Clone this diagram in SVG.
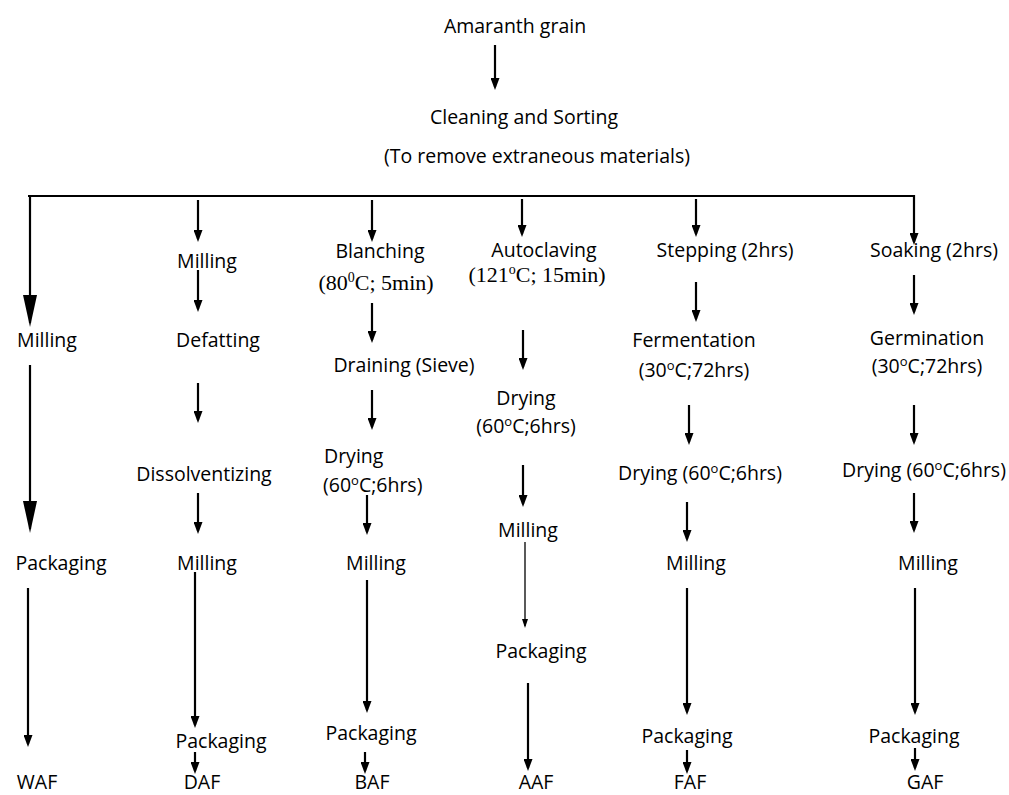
<svg xmlns="http://www.w3.org/2000/svg" width="1009" height="795" viewBox="0 0 1009 795">
<style>
.t{font-family:"Open Sans","Noto Sans",sans-serif;font-size:19.5px;fill:#000;text-anchor:middle}
.s{text-anchor:start}
.tr{font-family:"Liberation Serif","Times New Roman",serif;font-size:22px;fill:#000;text-anchor:middle}
.c{stroke:#000;stroke-width:2.2;fill:none}
.thin{stroke:#000;stroke-width:1.3;fill:none}
</style>
<defs>
<marker id="a" viewBox="0 0 12 9" refX="9" refY="4.5" markerWidth="12" markerHeight="9" markerUnits="userSpaceOnUse" orient="auto"><path d="M0,0 L12,4.5 L0,9 z" fill="#000"/></marker>
<marker id="big" viewBox="0 0 32 14" refX="28" refY="7" markerWidth="32" markerHeight="14" markerUnits="userSpaceOnUse" orient="auto"><path d="M0,0 L32,7 L0,14 z" fill="#000"/></marker>
<marker id="sm" viewBox="0 0 9 6" refX="7" refY="3" markerWidth="9" markerHeight="6" markerUnits="userSpaceOnUse" orient="auto"><path d="M0,0 L9,3 L0,6 z" fill="#000"/></marker>
</defs>
<g id="connectors">
<path class="c" d="M495,45 V87" marker-end="url(#a)"/>
<path class="c" d="M28,196 H914 V242" marker-end="url(#a)"/>
<path class="c" d="M30,196 V323" marker-end="url(#big)"/>
<path class="c" d="M30,365 V529" marker-end="url(#big)"/>
<path class="c" d="M28,588 V744" marker-end="url(#a)"/>
<path class="c" d="M198,200 V239" marker-end="url(#a)"/>
<path class="c" d="M198,270 V309" marker-end="url(#a)"/>
<path class="c" d="M198,383 V420" marker-end="url(#a)"/>
<path class="c" d="M198,493 V531" marker-end="url(#a)"/>
<path class="c" d="M195,572 V725" marker-end="url(#a)"/>
<path class="c" d="M195,752 V771" marker-end="url(#a)"/>
<path class="c" d="M372,200 V239" marker-end="url(#a)"/>
<path class="c" d="M372,303 V340" marker-end="url(#a)"/>
<path class="c" d="M372,390 V427" marker-end="url(#a)"/>
<path class="c" d="M367,495 V532" marker-end="url(#a)"/>
<path class="c" d="M367,580 V710" marker-end="url(#a)"/>
<path class="c" d="M365,752 V771" marker-end="url(#a)"/>
<path class="c" d="M522,199 V234" marker-end="url(#a)"/>
<path class="c" d="M523,330 V367" marker-end="url(#a)"/>
<path class="c" d="M523,465 V504" marker-end="url(#a)"/>
<path class="thin" d="M525,542 V626" marker-end="url(#sm)"/>
<path class="c" d="M528,683 V768" marker-end="url(#a)"/>
<path class="c" d="M696,199 V234" marker-end="url(#a)"/>
<path class="c" d="M696,282 V319" marker-end="url(#a)"/>
<path class="c" d="M689,405 V442" marker-end="url(#a)"/>
<path class="c" d="M687,502 V539" marker-end="url(#a)"/>
<path class="c" d="M687,588 V712" marker-end="url(#a)"/>
<path class="c" d="M687,750 V771" marker-end="url(#a)"/>
<path class="c" d="M914,275 V312" marker-end="url(#a)"/>
<path class="c" d="M914,405 V442" marker-end="url(#a)"/>
<path class="c" d="M914,493 V530" marker-end="url(#a)"/>
<path class="c" d="M915,588 V712" marker-end="url(#a)"/>
<path class="c" d="M915,748 V768" marker-end="url(#a)"/>
</g>
<g id="top">
<text class="t" x="515" y="33">Amaranth grain</text>
</g>
<g id="cleaning">
<text class="t" x="524" y="124">Cleaning and Sorting</text>
<text class="t" x="537" y="163">(To remove extraneous materials)</text>
</g>
<g id="col-waf">
<text class="t" x="47" y="347">Milling</text>
<text class="t" x="61" y="570">Packaging</text>
<text class="t" x="37" y="789">WAF</text>
</g>
<g id="col-daf">
<text class="t" x="207" y="268">Milling</text>
<text class="t" x="218" y="347">Defatting</text>
<text class="t" x="204" y="481">Dissolventizing</text>
<text class="t" x="207" y="570">Milling</text>
<text class="t" x="221" y="748">Packaging</text>
<text class="t" x="202" y="789">DAF</text>
</g>
<g id="col-baf">
<text class="t" x="380" y="258">Blanching</text>
<text class="tr" x="376" y="290">(80<tspan font-size="14" dy="-8">0</tspan><tspan dy="8">C; 5min)</tspan></text>
<text class="t" x="404" y="372">Draining (Sieve)</text>
<text class="t s" x="324" y="463">Drying</text>
<text class="t s" x="323" y="492">(60<tspan font-size="13" dy="-7">o</tspan><tspan dy="7">C;6hrs)</tspan></text>
<text class="t" x="376" y="570">Milling</text>
<text class="t" x="371" y="740">Packaging</text>
<text class="t" x="372" y="789">BAF</text>
</g>
<g id="col-aaf">
<text class="t" x="544" y="257">Autoclaving</text>
<text class="tr" x="537" y="282">(121<tspan font-size="14" dy="-8">o</tspan><tspan dy="8">C; 15min)</tspan></text>
<text class="t" x="526" y="405">Drying</text>
<text class="t" x="526" y="433">(60<tspan font-size="13" dy="-7">o</tspan><tspan dy="7">C;6hrs)</tspan></text>
<text class="t" x="528" y="537">Milling</text>
<text class="t" x="541" y="658">Packaging</text>
<text class="t" x="536" y="789">AAF</text>
</g>
<g id="col-faf">
<text class="t" x="725" y="257">Stepping (2hrs)</text>
<text class="t" x="694" y="347">Fermentation</text>
<text class="t" x="694" y="377">(30<tspan font-size="13" dy="-7">o</tspan><tspan dy="7">C;72hrs)</tspan></text>
<text class="t" x="700" y="480">Drying (60<tspan font-size="13" dy="-7">o</tspan><tspan dy="7">C;6hrs)</tspan></text>
<text class="t" x="696" y="570">Milling</text>
<text class="t" x="687" y="743">Packaging</text>
<text class="t" x="690" y="789">FAF</text>
</g>
<g id="col-gaf">
<text class="t" x="934" y="257">Soaking (2hrs)</text>
<text class="t" x="927" y="345">Germination</text>
<text class="t" x="927" y="373">(30<tspan font-size="13" dy="-7">o</tspan><tspan dy="7">C;72hrs)</tspan></text>
<text class="t" x="924" y="477">Drying (60<tspan font-size="13" dy="-7">o</tspan><tspan dy="7">C;6hrs)</tspan></text>
<text class="t" x="928" y="570">Milling</text>
<text class="t" x="914" y="743">Packaging</text>
<text class="t" x="925" y="789">GAF</text>
</g>
</svg>
